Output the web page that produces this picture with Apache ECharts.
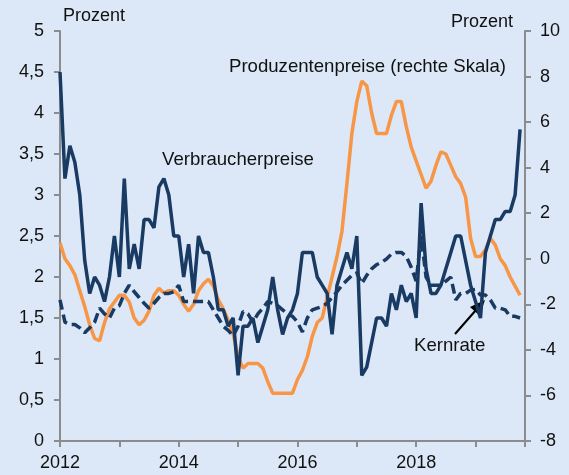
<!DOCTYPE html>
<html>
<head>
<meta charset="utf-8">
<script src="https://cdn.jsdelivr.net/npm/echarts@6/dist/echarts.min.js"></script>
<style>
  html, body { margin: 0; padding: 0; background: #dce8f7; }
  #chart { width: 569px; height: 475px; }
</style>
</head>
<body>
<div id="chart"></div>
<script>
// monthly values, Jan 2012 .. Oct 2019
const startYear = 2012
const cpi = [
  4.5, 3.2, 3.6, 3.4, 3.0, 2.2, 1.8, 2.0, 1.9, 1.7, 2.0, 2.5,
  2.0, 3.2, 2.1, 2.4, 2.1, 2.7, 2.7, 2.6, 3.1, 3.2, 3.0, 2.5,
  2.5, 2.0, 2.4, 1.8, 2.5, 2.3, 2.3, 2.0, 1.6, 1.6, 1.4, 1.5,
  0.8, 1.4, 1.4, 1.5, 1.2, 1.4, 1.6, 2.0, 1.6, 1.3, 1.5, 1.6,
  1.8, 2.3, 2.3, 2.3, 2.0, 1.9, 1.8, 1.3, 1.9, 2.1, 2.3, 2.1,
  2.5, 0.8, 0.9, 1.2, 1.5, 1.5, 1.4, 1.8, 1.6, 1.9, 1.7, 1.8,
  1.5, 2.9, 2.1, 1.8, 1.8, 1.9, 2.1, 2.3, 2.5, 2.5, 2.2, 1.9,
  1.7, 1.5, 2.3, 2.5, 2.7, 2.7, 2.8, 2.8, 3.0, 3.8
]
const core = [
  1.72, 1.45, 1.42, 1.42, 1.38, 1.32, 1.38, 1.45, 1.62, 1.55, 1.5, 1.62,
  1.65, 1.8, 1.9, 1.82, 1.75, 1.68, 1.62, 1.68, 1.75, 1.8, 1.8, 1.82,
  1.9, 1.7, 1.7, 1.7, 1.7, 1.7, 1.7, 1.6, 1.5, 1.4, 1.35, 1.28,
  1.4, 1.58, 1.55, 1.45, 1.55, 1.62, 1.7, 1.68, 1.65, 1.6, 1.55, 1.52,
  1.45, 1.33, 1.5, 1.6, 1.62, 1.64, 1.68, 1.75, 1.82, 1.9, 1.96, 2.02,
  2.05, 1.92, 2.02, 2.1, 2.15, 2.18, 2.22, 2.28, 2.3, 2.3, 2.25, 2.12,
  1.95, 2.5, 2.0, 1.9, 1.9, 1.9, 1.95, 2.0, 1.72, 1.8, 1.8, 1.84,
  1.85, 1.78, 1.78, 1.72, 1.62, 1.62, 1.6, 1.52, 1.52, 1.5
]
const ppi = [
  0.7, 0.0, -0.3, -0.7, -1.4, -2.1, -2.9, -3.5, -3.6, -2.8, -2.2, -1.9,
  -1.6, -1.6, -1.9, -2.6, -2.9, -2.7, -2.3, -1.6, -1.3, -1.5, -1.4, -1.4,
  -1.6, -2.0, -2.3, -2.0, -1.4, -1.1, -0.9, -1.2, -1.8, -2.2, -2.7, -3.3,
  -4.3, -4.8, -4.6, -4.6, -4.6, -4.8, -5.4, -5.9, -5.9, -5.9, -5.9, -5.9,
  -5.3, -4.9, -4.3, -3.4, -2.8, -2.6, -1.7, -0.8, 0.1, 1.2, 3.3, 5.5,
  6.9, 7.8, 7.6, 6.4, 5.5, 5.5, 5.5, 6.3, 6.9, 6.9, 5.8, 4.9,
  4.3, 3.7, 3.1, 3.4, 4.1, 4.7, 4.6, 4.1, 3.6, 3.3, 2.7, 0.9,
  0.1, 0.1, 0.4, 0.9, 0.6, 0.0, -0.3, -0.8, -1.2, -1.6
]

const navy = '#193a63'
const orange = '#f79646'
const axisGrey = '#8c8c8c'
const font = "'Liberation Sans', Arial, sans-serif"
const noteFont = `18.6px ${font}`

const toPoints = arr => arr.map((v, i) => [startYear + i / 12, v])

const axisCommon = {
  axisLine: { show: true, lineStyle: { color: axisGrey, width: 2 } },
  axisTick: { show: true, inside: false, length: 6, lineStyle: { color: axisGrey, width: 2 } },
  splitLine: { show: false },
  axisLabel: { color: '#111', fontSize: 18, fontFamily: font },
}

const chart = echarts.init(document.getElementById('chart'), null, { renderer: 'canvas' })

chart.setOption({
  animation: false,
  backgroundColor: '#dce8f7',
  grid: { left: 60, right: 44, top: 31, bottom: 34 },
  xAxis: {
    type: 'value',
    min: startYear,
    max: startYear + cpi.length / 12,
    interval: 1,
    ...axisCommon,
    axisLabel: {
      ...axisCommon.axisLabel,
      margin: 13,
      formatter: v => (Number.isInteger(v) && v % 2 === 0 ? String(v) : ''),
    },
  },
  yAxis: [
    {
      type: 'value', position: 'left', min: 0, max: 5, interval: 0.5,
      ...axisCommon,
      axisLabel: { ...axisCommon.axisLabel, margin: 16, formatter: v => String(v).replace('.', ',') },
    },
    {
      type: 'value', position: 'right', min: -8, max: 10, interval: 2,
      ...axisCommon,
      axisLabel: { ...axisCommon.axisLabel, margin: 15 },
    },
  ],
  series: [
    {
      name: 'Produzentenpreise', type: 'line', yAxisIndex: 1, data: toPoints(ppi),
      showSymbol: false, lineStyle: { color: orange, width: 3.5 },
    },
    {
      name: 'Verbraucherpreise', type: 'line', data: toPoints(cpi),
      showSymbol: false, lineStyle: { color: navy, width: 3.5 },
    },
    {
      name: 'Kernrate', type: 'line', data: toPoints(core),
      showSymbol: false, lineStyle: { color: navy, width: 3.5, type: [10, 5] },
    },
  ],
  graphic: [
    { type: 'text', left: 63, top: 7, style: { text: 'Prozent', font: `18px ${font}`, fill: '#111' } },
    { type: 'text', left: 451, top: 13, style: { text: 'Prozent', font: `18px ${font}`, fill: '#111' } },
    { type: 'text', left: 229, top: 57, style: { text: 'Produzentenpreise (rechte Skala)', font: noteFont, fill: '#111' } },
    { type: 'text', left: 162, top: 150, style: { text: 'Verbraucherpreise', font: noteFont, fill: '#111' } },
    { type: 'text', left: 414, top: 336, style: { text: 'Kernrate', font: noteFont, fill: '#111' } },
    // arrow to the core rate line
    { type: 'line', shape: { x1: 455, y1: 334, x2: 476, y2: 310 }, style: { stroke: '#000', lineWidth: 2 } },
    { type: 'polygon', shape: { points: [[485, 300], [479.5, 315.5], [470, 307]] }, style: { fill: '#000' } },
  ],
})
</script>
</body>
</html>
